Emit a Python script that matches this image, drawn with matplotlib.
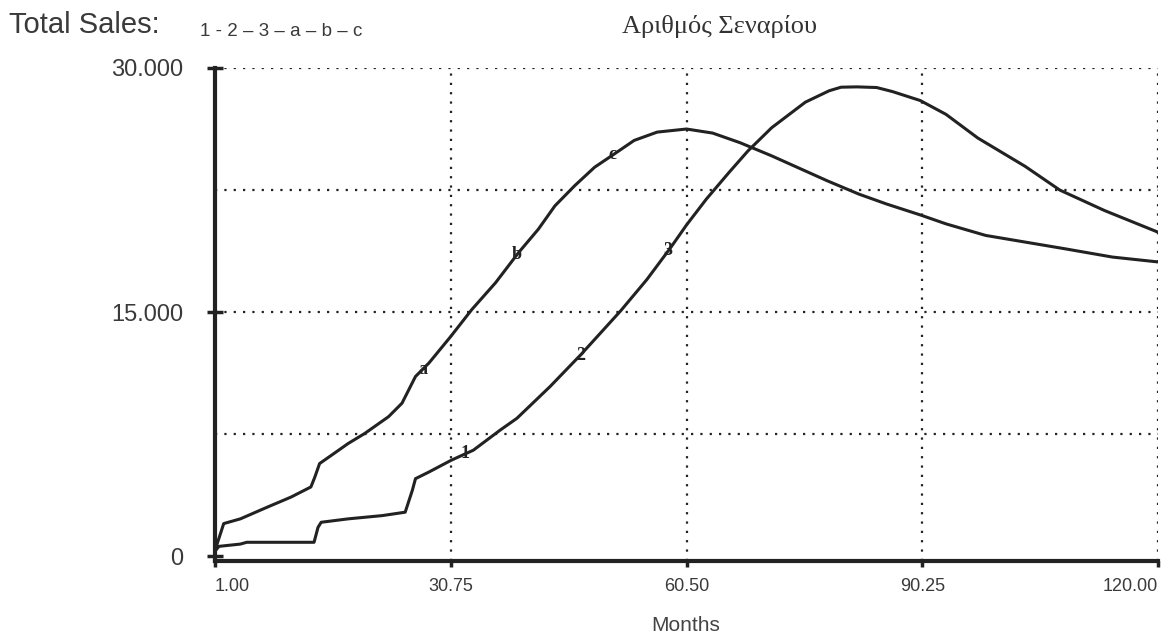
import numpy as np
import matplotlib
matplotlib.use("Agg")
import matplotlib.pyplot as plt

# ---- data ----
months_123 = [1, 1.5, 4.2, 5, 13.5, 14, 14.4, 17.8, 22.1, 25, 25.9, 26.3, 28, 30.8,
              33.6, 37, 39.1, 43.3, 47.2, 52.2, 55.5, 58.5, 60.5, 63, 65.9, 68.25,
              71.25, 75.5, 78.5, 80, 82, 84.5, 86.5, 90, 93.25, 97.25, 103.25,
              107.6, 113.25, 120]
sales_123 = [300, 600, 740, 850, 850, 1770, 2080, 2290, 2490, 2700, 4040, 4760, 5170,
             5890, 6510, 7750, 8470, 10430, 12400, 15080, 17000, 18960, 20350, 21940,
             23600, 24900, 26330, 27900, 28600, 28820, 28840, 28800, 28550, 28000,
             27150, 25700, 23950, 22500, 21240, 19910]

months_abc = [1, 1.3, 2.1, 4.2, 7.6, 10.6, 13.1, 13.6, 14.2, 15.7, 17.8, 19.9, 22.9,
              24.6, 26.3, 28, 30.75, 33.4, 36.4, 39.3, 41.8, 43.9, 46.4, 48.9, 51.4,
              53.9, 56.8, 60.5, 63.8, 67.25, 71.25, 78.25, 82.25, 85.75, 90, 93.25,
              98.25, 103.25, 108.25, 114.25, 120]
sales_abc = [300, 800, 2000, 2290, 3010, 3630, 4250, 4860, 5690, 6200, 6920, 7540, 8570,
             9400, 11040, 11870, 13500, 15150, 16800, 18650, 20090, 21530, 22770, 23900,
             24720, 25550, 26060, 26250, 26000, 25410, 24600, 23070, 22250, 21640, 20970,
             20420, 19710, 19300, 18890, 18380, 18080]

labels_123 = ["1", "2", "3"]
label_months_123 = [32.6, 47.1, 58.2]
labels_abc = ["a", "b", "c"]
label_months_abc = [27.2, 39.1, 51.2]

x_ticks = [1.00, 30.75, 60.50, 90.25, 120.00]
x_tick_labels = ["1.00", "30.75", "60.50", "90.25", "120.00"]
y_grid = [7500, 15000, 22500, 30000]
y_ticks = [0, 15000, 30000]
y_tick_labels = ["0", "15.000", "30.000"]

# ---- figure ----
fig = plt.figure(figsize=(11.71, 6.41), dpi=100)
ax = fig.add_axes([215 / 1171, 1 - 561 / 641, 943 / 1171, 493 / 641])
ax.set_xlim(1, 120)
ax.set_ylim(-300, 30000)

ink = "#222222"
txt = "#3a3a3a"
dot = (0, (1, 3.2))
for xv in x_ticks[1:]:
    ax.axvline(xv, color=ink, lw=1.6, ls=dot, zorder=1)
for yv in y_grid:
    ax.axhline(yv, color=ink, lw=1.6, ls=dot, zorder=1)

ax.plot(months_abc, sales_abc, color=ink, lw=2.2, zorder=3)
ax.plot(months_123, sales_123, color=ink, lw=2.2, zorder=3)

for lab, m in zip(labels_123, label_months_123):
    ax.text(m, np.interp(m, months_123, sales_123), lab, fontsize=13,
            family="Liberation Serif", fontweight="bold", color=ink,
            ha="center", va="center", zorder=4)
for lab, m in zip(labels_abc, label_months_abc):
    ax.text(m, np.interp(m, months_abc, sales_abc), lab, fontsize=13,
            family="Liberation Serif", fontweight="bold", color=ink,
            ha="center", va="center", zorder=4)

for s in ["top", "right"]:
    ax.spines[s].set_visible(False)
ax.spines["left"].set_linewidth(3)
ax.spines["bottom"].set_linewidth(3)
ax.spines["left"].set_color(ink)
ax.spines["bottom"].set_color(ink)

ax.set_xticks(x_ticks)
ax.set_xticklabels(x_tick_labels, fontsize=13, family="Liberation Sans", color=txt)
lbls = ax.get_xticklabels()
lbls[0].set_ha("left")
lbls[-1].set_ha("right")
ax.tick_params(axis="x", length=4, width=2.5, pad=8, color=ink)

ax.set_yticks(y_ticks)
ax.set_yticklabels(y_tick_labels, fontsize=17, family="Liberation Sans", color=txt)
ax.tick_params(axis="y", direction="inout", length=12, width=2.5, pad=17, color=ink)

ax.set_xlabel("Months", fontsize=15, family="Liberation Sans", color="#444444")
ax.xaxis.set_label_coords(0.4995, -0.13)
ax.xaxis.label.set_va("center")

fig.text(9 / 1171, 1 - 25 / 641, "Total Sales:", fontsize=21, family="Liberation Sans",
         color=txt, ha="left", va="center")
fig.text(200 / 1171, 1 - 31 / 641, "1 - 2 – 3 – a – b – c", fontsize=13.5,
         family="Liberation Sans", color=txt, ha="left", va="center")
fig.text(719 / 1171, 1 - 26 / 641, "Αριθμός Σεναρίου", fontsize=19,
         family="Liberation Serif", color="#333333", ha="center", va="center")

fig.savefig("out.png", dpi=100)
